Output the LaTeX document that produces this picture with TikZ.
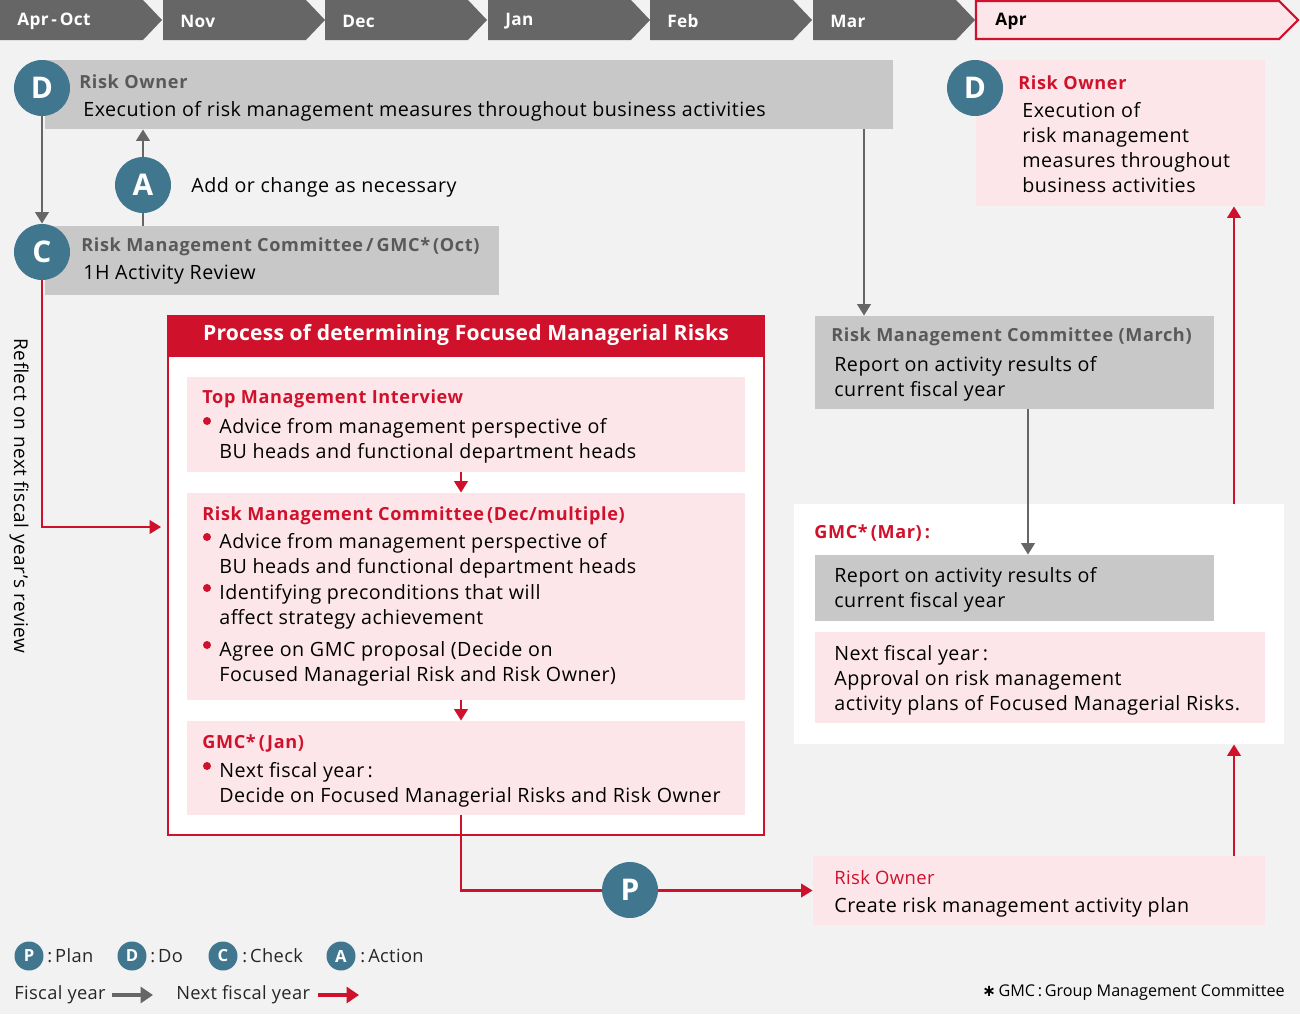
\documentclass[tikz,border=0pt]{standalone}
\usepackage{fontspec}
\setmainfont{Open Sans}
\newfontfamily\dejavu{DejaVu Sans}
\usetikzlibrary{arrows.meta,fit,calc}
\definecolor{bgc}{HTML}{F2F2F2}
\definecolor{chevc}{HTML}{666666}
\definecolor{boxg}{HTML}{C8C8C8}
\definecolor{teal}{HTML}{41768F}
\definecolor{redc}{HTML}{D0112B}
\definecolor{pinkc}{HTML}{FDE6EA}
\definecolor{gtitle}{HTML}{595959}
\definecolor{lineg}{HTML}{666666}
\tikzset{
  chev/.style={fill=chevc},
  gbox/.style={fill=boxg, inner sep=0, draw=none},
  pbox/.style={fill=pinkc, inner sep=0, draw=none},
  wbox/.style={fill=white, inner sep=0, draw=none},
  pdca/.style={circle, fill=teal, text=white, inner sep=0, minimum size=1.12cm,
    font=\bfseries\fontsize{17}{17}\selectfont},
  pdcas/.style={circle, fill=teal, text=white, inner sep=0, minimum size=0.58cm,
    font=\bfseries\fontsize{9.5}{9.5}\selectfont},
  txt/.style={anchor=west, inner sep=0, align=left, text=black, yshift=-1.2pt,
    font=\fontsize{11.2}{14.2}\selectfont\addfontfeature{LetterSpace=2.5}},
  gttl/.style={anchor=west, inner sep=0, text=gtitle, yshift=-0.8pt,
    font=\bfseries\fontsize{10.3}{12}\selectfont\addfontfeature{LetterSpace=3.5}},
  rttl/.style={anchor=west, inner sep=0, text=redc, yshift=-0.8pt,
    font=\bfseries\fontsize{10.3}{12}\selectfont\addfontfeature{LetterSpace=3.5}},
  mtxt/.style={anchor=west, inner sep=0, text=white, yshift=-0.6pt,
    font=\bfseries\fontsize{9.8}{11}\selectfont\addfontfeature{LetterSpace=2}},
  legt/.style={anchor=west, inner sep=0, text=black!85,
    font=\fontsize{10.4}{12}\selectfont\addfontfeature{LetterSpace=2}},
  bul/.style={circle, fill=redc, inner sep=0, minimum size=0.16cm},
  garrow/.style={draw=lineg, line width=1.6pt, -{Triangle[width=7.5pt,length=6.5pt]}},
  gline/.style={draw=lineg, line width=1.6pt},
  rarrow/.style={draw=redc, line width=1.6pt, -{Triangle[width=7.5pt,length=6.5pt]}},
}
\begin{document}
\begin{tikzpicture}[x=0.02cm,y=-0.02cm]
\fill[bgc] (0,0) rectangle (1300,1014);
\useasboundingbox (0,0) rectangle (1300,1014);

% month chevrons
\foreach \a/\b/\t/\n in {0/162/Apr\,-\,Oct/m1, 163/325/Nov/m2, 325/487/Dec/m3,
  488/650/Jan/m4, 650/812/Feb/m5, 813/975/Mar/m6}{
  \fill[chev] (\a,0) -- ({\b-19},0) -- (\b,20) -- ({\b-19},40) -- (\a,40) -- cycle;
  \node[mtxt] (\n) at ({\a+17},20) {\t};
}
\draw[redc, fill=pinkc, line width=1.2pt] (976,1) -- (1279,1) -- (1298,20) -- (1279,39) -- (976,39) -- cycle;
\node[mtxt, text=black] (m7) at (995,20) {Apr};

% D risk owner (gray)
\node[gbox, fit={(45,60) (893,129)}] (d1) {};
\node[gttl] (d1t) at (79,80) {Risk Owner};
\node[txt] (d1x) at (83,109) {Execution of risk management measures throughout business activities};

% C box
\node[gbox, fit={(45,226) (499,295)}] (c1) {};
\node[gttl] (c1t) at (81,245) {Risk Management Committee\,/\,GMC*\,(Oct)};
\node[txt] (c1x) at (83,273) {1H Activity Review};

% Process box
\node[fill=white, draw=redc, line width=0.8pt, inner sep=0, fit={(168,316) (764,835)}] (proc) {};
\fill[redc] (168,316) rectangle (764,357);
\node[text=white, font=\bfseries\fontsize{12}{14}\selectfont\addfontfeature{LetterSpace=1}, inner sep=0] (proct) at (466,335) {Process of determining Focused Managerial Risks};

\node[pbox, fit={(187,377) (745,472)}] (tm) {};
\node[rttl] (tmt) at (202,397) {Top Management Interview};
\node[bul] (b1) at (207,421) {};
\node[txt] (tmx) at (219,438.5) {Advice from management perspective of\\BU heads and functional department heads};

\node[pbox, fit={(187,493) (745,700)}] (rc) {};
\node[rttl] (rct) at (202,514) {Risk Management Committee\,(Dec/multiple)};
\node[bul] (b2) at (207,537) {};
\node[txt] (rcx1) at (219,553.5) {Advice from management perspective of\\BU heads and functional department heads};
\node[bul] (b3) at (207,588) {};
\node[txt] (rcx2) at (219,604.5) {Identifying preconditions that will\\affect strategy achievement};
\node[bul] (b4) at (207,645) {};
\node[txt] (rcx3) at (219,661.5) {Agree on GMC proposal (Decide on\\Focused Managerial Risk and Risk Owner)};

\node[pbox, fit={(187,721) (745,815)}] (gj) {};
\node[rttl] (gjt) at (202,742) {GMC*\,(Jan)};
\node[bul] (b5) at (207,766) {};
\node[txt] (gjx) at (219,782.5) {Next fiscal year\,:\\Decide on Focused Managerial Risks and Risk Owner};

% Risk Owner P box
\node[pbox, fit={(813,856) (1265,925)}] (ro) {};
\node[rttl, font=\fontsize{10.5}{12}\selectfont\addfontfeature{LetterSpace=2}] (rot) at (834,876) {Risk Owner};
\node[txt] (rox) at (834,905) {Create risk management activity plan};

% RMC March
\node[gbox, fit={(815,316) (1214,409)}] (rm) {};
\node[gttl] (rmt) at (831,335) {Risk Management Committee (March)};
\node[txt] (rmx) at (834,376.5) {Report on activity results of\\current fiscal year};

% GMC Mar
\node[wbox, fit={(794,504) (1284,744)}] (gm) {};
\node[rttl] (gmt) at (814,532) {GMC*\,(Mar)\,:};
\node[gbox, fit={(815,555) (1214,621)}] (gi) {};
\node[txt] (gix) at (834,587.5) {Report on activity results of\\current fiscal year};
\node[pbox, fit={(815,632) (1265,723)}] (gp) {};
\node[txt] (gpx) at (834,678) {Next fiscal year\,:\\Approval on risk management\\activity plans of Focused Managerial Risks.};

% Apr D box
\node[pbox, fit={(976,60) (1265,206)}] (d2) {};
\node[rttl] (d2t) at (1018,81) {Risk Owner};
\node[txt] (d2x) at (1022,145.5) {Execution of\\risk management\\measures throughout\\business activities};

% helper coordinates
\coordinate (xa) at (143,0);
\coordinate (xp) at (461,0);
\coordinate (xg) at (864,0);
\coordinate (xg2) at (1028,0);
\coordinate (xr) at (1234,0);
\coordinate (yr) at (0,527);

% PDCA circles
\node[pdca] (dc) at (42,88) {D};
\node[pdca] (cc) at (42,252) {C};
\node[pdca] (ac) at (143,185) {A};
\node[pdca] (d2c) at (975,88) {D};
\node[txt] (acx) at (191,185) {Add or change as necessary};

% connectors
\draw[garrow] (dc) -- (cc);
\draw[garrow] (ac) -- (ac |- d1.south);
\draw[gline] (ac) -- (ac |- c1.north);
\draw[rarrow, shorten >=3.5pt] (cc.south) |- (proc.west |- yr);
\draw[rarrow] (tm.south -| xp) -- (rc.north -| xp);
\draw[rarrow] (rc.south -| xp) -- (gj.north -| xp);
\draw[rarrow] (gj.south -| xp) |- (ro.west);
\node[pdca] (pc) at (630,890) {P};
\draw[rarrow] (ro.north -| xr) -- (gm.south -| xr);
\draw[rarrow] (gm.north -| xr) -- (d2.south -| xr);
\draw[garrow] (d1.south -| xg) -- (rm.north -| xg);
\draw[garrow] (rm.south -| xg2) -- (gi.north -| xg2);

% vertical text
\node[rotate=-90, inner sep=0, font=\fontsize{10.8}{12}\selectfont\addfontfeature{LetterSpace=3}] (refl) at (19,496) {Reflect on next fiscal year's review};

% legend
\node[pdcas] (lp) at (29,956) {P};
\node[legt] at (47,956) {:\,Plan};
\node[pdcas] (ld) at (132,956) {D};
\node[legt] at (150,956) {:\,Do};
\node[pdcas] (lc) at (223,956) {C};
\node[legt] at (242,956) {:\,Check};
\node[pdcas] (la) at (341,956) {A};
\node[legt] at (360,956) {:\,Action};
\node[legt] (fy) at (14,995) {Fiscal year};
\node[legt] (nfy) at (176,995) {Next fiscal year};
\coordinate (g1) at (112,995);
\coordinate (g2) at (153,995);
\coordinate (r1) at (318,995);
\coordinate (r2) at (359,995);
\draw[draw=lineg, line width=2.6pt, -{Triangle[width=9pt,length=7pt]}] (g1) -- (g2);
\draw[draw=redc, line width=2.6pt, -{Triangle[width=9pt,length=7pt]}] (r1) -- (r2);

\node[anchor=east, inner sep=0, font=\fontsize{9.2}{11}\selectfont] (fn) at (1285,992) {{\dejavu\bfseries ∗}\,GMC\,:\,Group Management Committee};
\end{tikzpicture}
\end{document}
